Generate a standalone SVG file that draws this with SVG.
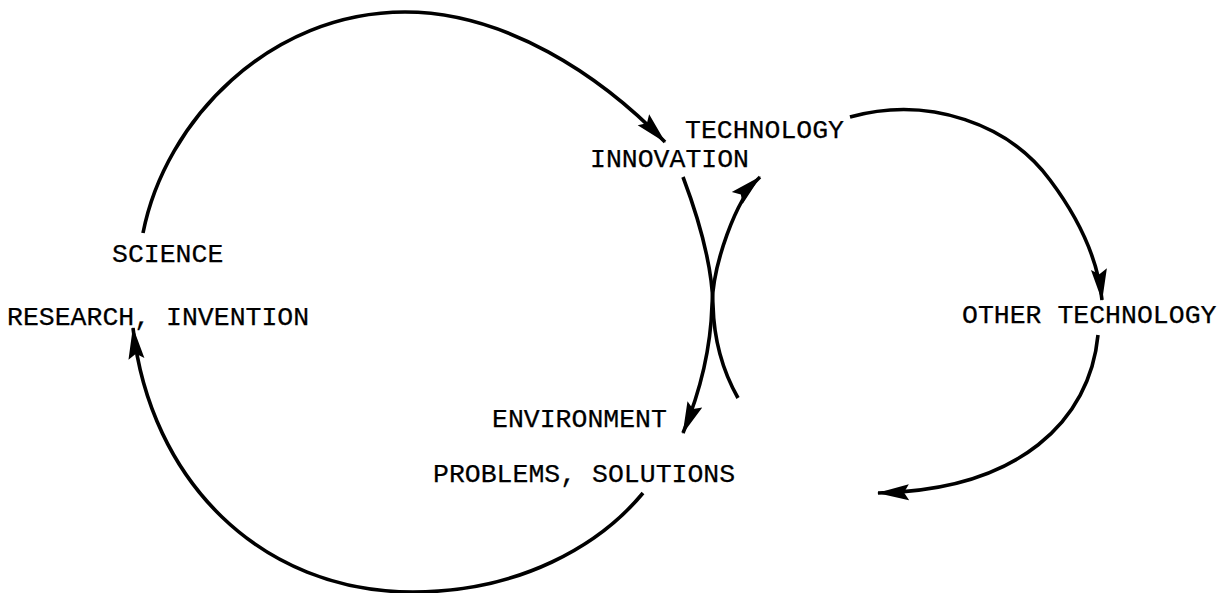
<svg xmlns="http://www.w3.org/2000/svg" width="1230" height="593" viewBox="0 0 1230 593">
  <style>
    .lbl { font-family: "Liberation Mono", "Courier New", monospace; font-size: 26.5px; fill: #000; stroke: #000; stroke-width: 0.25; }
    .con { fill: none; stroke: #000; stroke-width: 3.6; stroke-linecap: butt; }
  </style>
  <defs>
    <marker id="ah" markerUnits="userSpaceOnUse" viewBox="0 0 32 18" markerWidth="32" markerHeight="18" refX="31" refY="9" orient="auto-start-reverse">
      <path d="M0,1 L32,9 L0,17 L5,9 z" fill="#000"/>
    </marker>
  </defs>
  <rect width="1230" height="593" fill="#fff"/>
  <g id="connectors">
    <path class="con" d="M143,233 C165,120 270,12 405,12 C505,12 600,75 665,142" marker-end="url(#ah)"/>
    <path class="con" d="M643,493 C600,545 520,592 413,592 C260,592 150,480 133,328" marker-end="url(#ah)"/>
    <path class="con" d="M683,177 C700,222 712,265 713,305 C714,345 725,375 738,398"/>
    <path class="con" d="M683,433 C705,380 711,340 712,305 C713,265 735,200 760,177" marker-start="url(#ah)" marker-end="url(#ah)"/>
    <path class="con" d="M850,117 C930,95 1010,125 1050,180 C1080,220 1098,260 1102,300" marker-end="url(#ah)"/>
    <path class="con" d="M1098,335 C1090,420 1020,490 878,493" marker-end="url(#ah)"/>
  </g>
  <g id="science">
    <text class="lbl" x="112" y="262">SCIENCE</text>
    <text class="lbl" x="7" y="325">RESEARCH, INVENTION</text>
  </g>
  <g id="technology">
    <text class="lbl" x="685" y="138">TECHNOLOGY</text>
    <text class="lbl" x="590" y="167">INNOVATION</text>
  </g>
  <g id="other-technology">
    <text class="lbl" x="962" y="323">OTHER TECHNOLOGY</text>
  </g>
  <g id="environment">
    <text class="lbl" x="492" y="427">ENVIRONMENT</text>
    <text class="lbl" x="433" y="482">PROBLEMS, SOLUTIONS</text>
  </g>
</svg>
